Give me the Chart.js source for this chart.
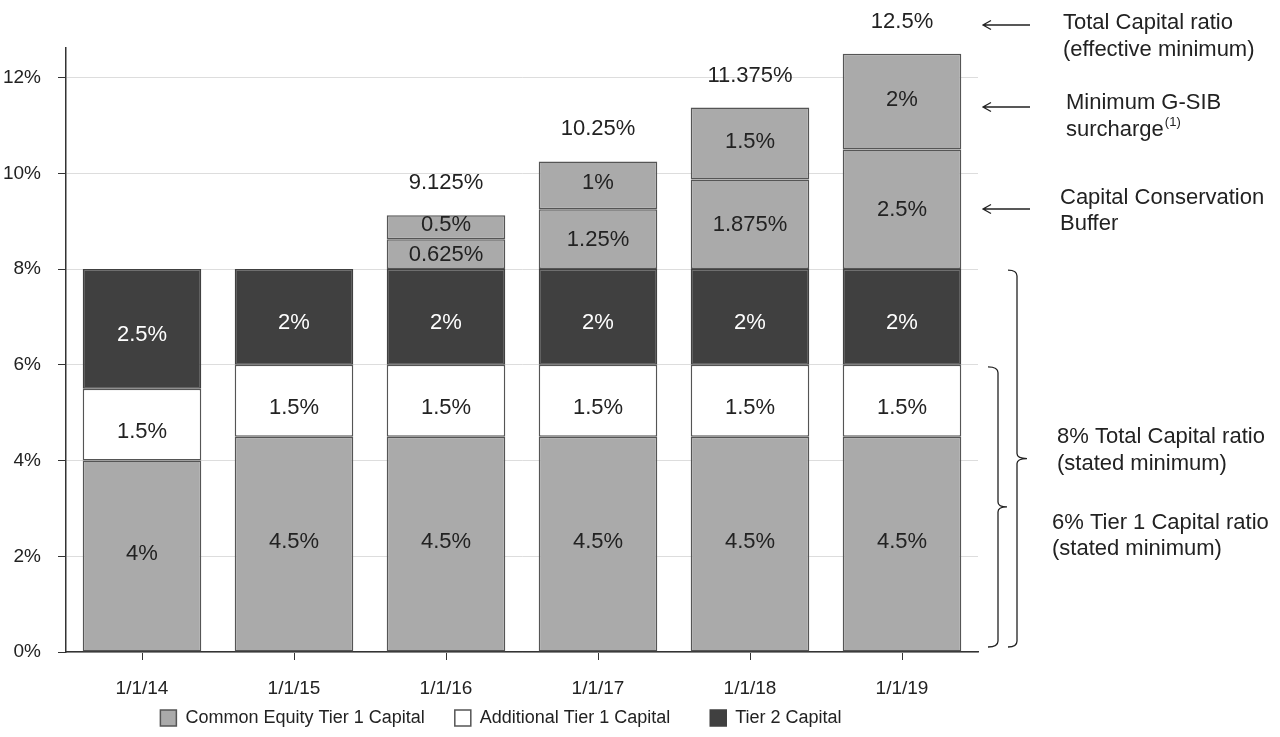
<!DOCTYPE html>
<html>
<head>
<meta charset="utf-8">
<script src="https://cdn.jsdelivr.net/npm/chart.js@4/dist/chart.umd.min.js"></script>
<style>
  html, body { margin: 0; padding: 0; background: #ffffff; }
  #wrap { width: 1280px; height: 737px; position: relative; }
</style>
</head>
<body>
<div id="wrap"><canvas id="c"></canvas></div>
<script>
// ---- data ----
const categories = ['1/1/14', '1/1/15', '1/1/16', '1/1/17', '1/1/18', '1/1/19'];
const cet1 = [4, 4.5, 4.5, 4.5, 4.5, 4.5];
const additionalTier1 = [1.5, 1.5, 1.5, 1.5, 1.5, 1.5];
const tier2 = [2.5, 2, 2, 2, 2, 2];
const conservationBuffer = [0, 0, 0.625, 1.25, 1.875, 2.5];
const gsibSurcharge = [0, 0, 0.5, 1, 1.5, 2];
const yTicks = [0, 2, 4, 6, 8, 10, 12];
const seriesNames = ['Common Equity Tier 1 Capital', 'Additional Tier 1 Capital', 'Tier 2 Capital', 'Capital Conservation Buffer', 'Minimum G-SIB surcharge'];

const LIGHT = '#aaaaaa', DARK = '#404040', EDGE = '#555555', TXT = '#222222';
const FONT = '"Liberation Sans", Arial, Helvetica, sans-serif';

function ds(label, data, bg, border, labelColor, offset) {
  return {
    label, data, backgroundColor: bg, borderColor: border, borderWidth: 1.5,
    borderSkipped: false, barPercentage: 0.78, categoryPercentage: 1.0,
    labelColor, labelOffset: offset
  };
}

const valueLabels = {
  id: 'valueLabels',
  afterDatasetsDraw(chart) {
    const ctx = chart.ctx;
    ctx.save();
    ctx.font = '22px ' + FONT;
    ctx.textAlign = 'center';
    ctx.textBaseline = 'middle';
    chart.data.datasets.forEach((d, i) => {
      const meta = chart.getDatasetMeta(i);
      meta.data.forEach((el, j) => {
        const v = d.data[j];
        if (!v) return;
        ctx.fillStyle = d.labelColor;
        ctx.fillText(v + '%', el.x, (el.y + el.base) / 2 + d.labelOffset);
      });
    });
    // totals above bars with buffers
    const last = chart.getDatasetMeta(chart.data.datasets.length - 1);
    categories.forEach((c, j) => {
      if (!conservationBuffer[j]) return;
      const total = cet1[j] + additionalTier1[j] + tier2[j] + conservationBuffer[j] + gsibSurcharge[j];
      const el = last.data[j];
      ctx.fillStyle = TXT;
      ctx.fillText(total + '%', el.x, el.y - 32);
    });
    ctx.restore();
  }
};

const annotations = {
  id: 'annotations',
  afterDraw(chart) {
    const ctx = chart.ctx;
    const ys = chart.scales.y;
    ctx.save();
    ctx.strokeStyle = '#222';
    ctx.lineWidth = 1.3;
    // arrows
    [25, 107, 209].forEach(y => {
      ctx.beginPath();
      ctx.moveTo(1030, y); ctx.lineTo(983, y);
      ctx.moveTo(991, y - 4.5); ctx.lineTo(983, y); ctx.lineTo(991, y + 4.5);
      ctx.stroke();
    });
    // braces
    function brace(x0, x1, tip, yTop, yBot) {
      const mid = (yTop + yBot) / 2;
      ctx.beginPath();
      ctx.moveTo(x0, yTop);
      ctx.quadraticCurveTo(x1, yTop, x1, yTop + 6);
      ctx.lineTo(x1, mid - 5);
      ctx.quadraticCurveTo(x1, mid, tip, mid);
      ctx.quadraticCurveTo(x1, mid, x1, mid + 5);
      ctx.lineTo(x1, yBot - 6);
      ctx.quadraticCurveTo(x1, yBot, x0, yBot);
      ctx.stroke();
    }
    brace(1008, 1017, 1027, ys.getPixelForValue(8) + 1, ys.getPixelForValue(0) - 5);
    brace(988, 998, 1007, ys.getPixelForValue(6) + 2, ys.getPixelForValue(0) - 5);
    // texts
    ctx.fillStyle = TXT;
    ctx.font = '22px ' + FONT;
    ctx.textAlign = 'left';
    ctx.textBaseline = 'middle';
    const lines = [
      ['Total Capital ratio', 1063, 23], ['(effective minimum)', 1063, 50],
      ['Minimum G-SIB', 1066, 103], ['surcharge', 1066, 130],
      ['Capital Conservation', 1060, 198], ['Buffer', 1060, 224],
      ['8% Total Capital ratio', 1057, 437], ['(stated minimum)', 1057, 464],
      ['6% Tier 1 Capital ratio', 1052, 523], ['(stated minimum)', 1052, 549]
    ];
    lines.forEach(([t, x, y]) => ctx.fillText(t, x, y));
    const w = ctx.measureText('surcharge').width;
    ctx.font = '13px ' + FONT;
    ctx.fillText('(1)', 1066 + w + 1, 122);
    ctx.restore();
  }
};

// nudge the legend a little to the right, as in the original layout
const legendShift = {
  id: 'legendShift',
  afterLayout(chart) {
    const l = chart.legend;
    if (l) { l.left += 12; l.right += 12; }
  }
};

const legendGaps = ['    ', '      ', ''];

new Chart(document.getElementById('c'), {
  type: 'bar',
  data: {
    labels: categories,
    datasets: [
      ds(seriesNames[0], cet1, LIGHT, EDGE, TXT, -2),
      ds(seriesNames[1], additionalTier1, '#ffffff', EDGE, TXT, 7),
      ds(seriesNames[2], tier2, DARK, DARK, '#ffffff', 6),
      ds(seriesNames[3], conservationBuffer, LIGHT, EDGE, TXT, 1),
      ds(seriesNames[4], gsibSurcharge, LIGHT, EDGE, TXT, -2)
    ]
  },
  options: {
    responsive: true,
    maintainAspectRatio: false,
    animation: false,
    layout: { padding: { top: 48, right: 302, left: 0, bottom: 0 } },
    plugins: {
      legend: {
        position: 'bottom',
        labels: {
          filter: item => item.datasetIndex < 3,
          generateLabels: chart => Chart.defaults.plugins.legend.labels.generateLabels(chart)
            .map(it => Object.assign(it, { text: it.text + (legendGaps[it.datasetIndex] || '') })),
          boxWidth: 16, boxHeight: 16, padding: 10,
          color: TXT, font: { family: FONT, size: 18 }
        }
      },
      tooltip: { enabled: false }
    },
    scales: {
      x: {
        stacked: true,
        grid: { display: true, drawOnChartArea: false, drawTicks: true, tickLength: 8, tickColor: '#333', offset: false },
        border: { display: true, color: '#333', width: 1.5 },
        ticks: { color: TXT, font: { family: FONT, size: 19 }, padding: 17 },
        afterFit: s => { s.height = 47; }
      },
      y: {
        stacked: true,
        min: 0, max: 12.62,
        afterBuildTicks: s => { s.ticks = yTicks.map(v => ({ value: v })); },
        grid: { color: '#dddddd', lineWidth: 1, tickLength: 8, tickColor: '#333' },
        border: { display: true, color: '#333', width: 1.5 },
        ticks: { color: TXT, font: { family: FONT, size: 19 }, padding: 17, callback: v => v + '%' },
        afterFit: s => { s.width = 66; }
      }
    }
  },
  plugins: [valueLabels, annotations, legendShift]
});
</script>
</body>
</html>
